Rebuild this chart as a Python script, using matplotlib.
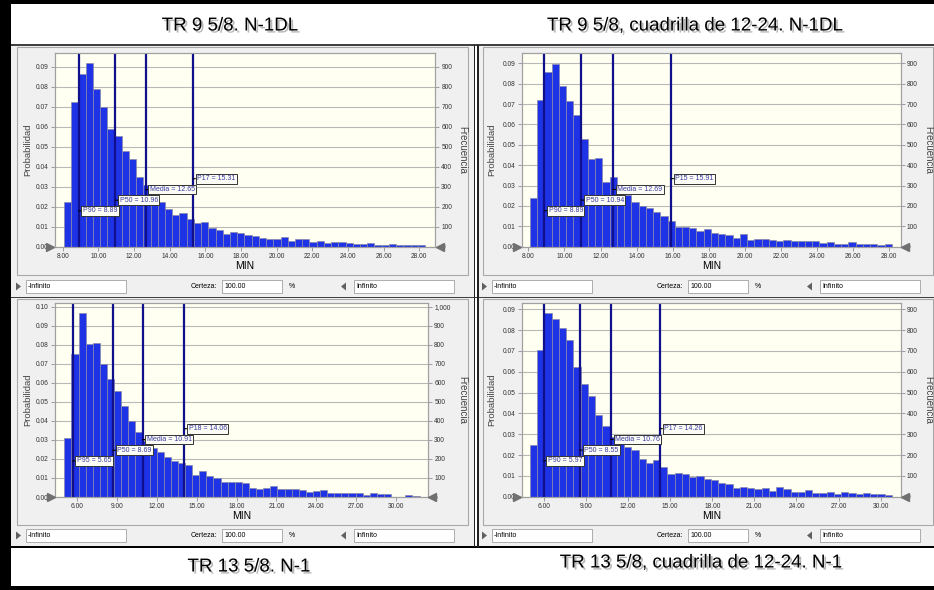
import matplotlib
matplotlib.use('Agg')
import matplotlib.pyplot as plt
import matplotlib.patheffects as pe
from matplotlib.patches import Rectangle, Polygon
from matplotlib.ticker import MultipleLocator, FuncFormatter
import numpy as np

plt.rcParams['font.family'] = ['Liberation Sans', 'DejaVu Sans']

W, H = 934, 590

titles = ["TR 9 5/8. N-1DL", "TR 9 5/8, cuadrilla de 12-24. N-1DL",
          "TR 13 5/8. N-1", "TR 13 5/8, cuadrilla de 12-24. N-1"]

# histogram bins (first edge, bin width) and probabilities
tl_start, tl_width = 8.07, 0.405
tl_prob = [0.0225, 0.0722, 0.0865, 0.0917, 0.0787, 0.0697, 0.0590, 0.0552, 0.0482, 0.0440,
           0.0348, 0.0310, 0.0262, 0.0225, 0.0190, 0.0162, 0.0172, 0.0138, 0.0120, 0.0125,
           0.0095, 0.0087, 0.0067, 0.0075, 0.0070, 0.0058, 0.0055, 0.0047, 0.0042, 0.0038,
           0.0048, 0.0030, 0.0042, 0.0038, 0.0023, 0.0028, 0.0018, 0.0023, 0.0027, 0.0018,
           0.0017, 0.0015, 0.0018, 0.0012, 0.0008, 0.0015, 0.0008, 0.0010, 0.0010, 0.0010]
tl_marks = [("P90", 8.89), ("P50", 10.96), ("Media", 12.65), ("P17", 15.31)]

tr_start, tr_width = 8.09, 0.401
tr_prob = [0.0237, 0.0720, 0.0856, 0.0897, 0.0789, 0.0717, 0.0645, 0.0527, 0.0430, 0.0437,
           0.0319, 0.0344, 0.0254, 0.0254, 0.0220, 0.0200, 0.0188, 0.0172, 0.0152, 0.0126,
           0.0097, 0.0097, 0.0090, 0.0077, 0.0085, 0.0069, 0.0060, 0.0057, 0.0044, 0.0062,
           0.0033, 0.0036, 0.0036, 0.0031, 0.0030, 0.0033, 0.0030, 0.0026, 0.0026, 0.0026,
           0.0020, 0.0021, 0.0015, 0.0015, 0.0023, 0.0015, 0.0015, 0.0015, 0.0008, 0.0011]
tr_marks = [("P90", 8.89), ("P50", 10.94), ("Media", 12.69), ("P15", 15.91)]

bl_start, bl_width = 5.02, 0.535
bl_prob = [0.0312, 0.0750, 0.0966, 0.0802, 0.0811, 0.0698, 0.0623, 0.0556, 0.0478, 0.0397,
           0.0344, 0.0295, 0.0259, 0.0235, 0.0208, 0.0190, 0.0180, 0.0169, 0.0118, 0.0136,
           0.0113, 0.0100, 0.0078, 0.0079, 0.0079, 0.0071, 0.0048, 0.0042, 0.0049, 0.0056,
           0.0041, 0.0041, 0.0044, 0.0035, 0.0028, 0.0034, 0.0037, 0.0021, 0.0023, 0.0019,
           0.0019, 0.0023, 0.0009, 0.0019, 0.0018, 0.0016, 0.0000, 0.0000, 0.0009, 0.0005]
bl_marks = [("P95", 5.65), ("P50", 8.69), ("Media", 10.91), ("P18", 14.06)]

br_start, br_width = 5.00, 0.516
br_prob = [0.0250, 0.0707, 0.0881, 0.0852, 0.0810, 0.0752, 0.0623, 0.0541, 0.0485, 0.0394,
           0.0341, 0.0285, 0.0260, 0.0237, 0.0225, 0.0180, 0.0164, 0.0175, 0.0145, 0.0108,
           0.0113, 0.0108, 0.0095, 0.0098, 0.0084, 0.0079, 0.0068, 0.0060, 0.0040, 0.0048,
           0.0040, 0.0037, 0.0040, 0.0027, 0.0047, 0.0035, 0.0024, 0.0024, 0.0031, 0.0018,
           0.0016, 0.0023, 0.0013, 0.0021, 0.0019, 0.0011, 0.0016, 0.0014, 0.0014, 0.0010]
br_marks = [("P90", 5.97), ("P50", 8.55), ("Media", 10.76), ("P17", 14.26)]


def rect(fig, x0, y0, x1, y1, **kw):
    r = Rectangle((x0 / W, 1 - y1 / H), (x1 - x0) / W, (y1 - y0) / H,
                  transform=fig.transFigure, **kw)
    fig.add_artist(r)


def tri(fig, x, y, direction):
    if direction == 'right':
        pts = [(x, y - 4), (x, y + 4), (x + 5, y)]
    else:
        pts = [(x + 5, y - 4), (x + 5, y + 4), (x, y)]
    fig.add_artist(Polygon([(px / W, 1 - py / H) for px, py in pts], closed=True,
                           transform=fig.transFigure, fc='#606060', ec='none', zorder=1))


def draw_controls(fig, x0, y0):
    tri(fig, x0 - 1, y0 + 6.5, 'right')
    rect(fig, x0 + 9, y0, x0 + 109, y0 + 13, fc='white', ec='#a0a0a0', lw=0.6, zorder=1)
    fig.text((x0 + 11) / W, 1 - (y0 + 6.5) / H, "-Infinito", fontsize=5, va='center')
    fig.text((x0 + 200) / W, 1 - (y0 + 6.5) / H, "Certeza:", fontsize=5, va='center', ha='right')
    rect(fig, x0 + 205, y0, x0 + 265, y0 + 13, fc='white', ec='#a0a0a0', lw=0.6, zorder=1)
    fig.text((x0 + 207) / W, 1 - (y0 + 6.5) / H, "100.00", fontsize=5, va='center')
    fig.text((x0 + 272) / W, 1 - (y0 + 6.5) / H, "%", fontsize=5, va='center')
    tri(fig, x0 + 324, y0 + 6.5, 'left')
    rect(fig, x0 + 337, y0, x0 + 437, y0 + 13, fc='white', ec='#a0a0a0', lw=0.6, zorder=1)
    fig.text((x0 + 339) / W, 1 - (y0 + 6.5) / H, "Infinito", fontsize=5, va='center')


def plot_hist(fig, box, start, width, probs, marks, xlim, ymax, xstep, ylab_dx, flab_dx):
    left, top, right, bottom = box
    ax = fig.add_axes([left / W, 1 - bottom / H, (right - left) / W, (bottom - top) / H])
    ax.set_facecolor('#fffff2')
    edges = start + width * np.arange(len(probs) + 1)
    ax.bar(edges[:-1], probs, width=width, align='edge', color='#1e32e6',
           edgecolor='#8a8aa8', linewidth=0.5, zorder=2)
    ax.set_xlim(*xlim)
    ax.set_ylim(0, ymax)
    ax.yaxis.set_major_locator(MultipleLocator(0.01))
    ax.yaxis.set_major_formatter(FuncFormatter(lambda v, p: f"{v:.2f}"))
    ax.xaxis.set_major_locator(MultipleLocator(xstep))
    ax.xaxis.set_major_formatter(FuncFormatter(lambda v, p: f"{v:.2f}"))
    ax.grid(axis='y', color='#b8b8b8', lw=0.8, zorder=0)
    ax.set_axisbelow(True)
    ax.tick_params(labelsize=4.8, length=3, width=0.6, color='#909090', pad=1.5,
                   labelcolor='#333333')
    for s in ax.spines.values():
        s.set_color('#a0a0a0')
        s.set_linewidth(0.8)

    tw = ax.twinx()
    tw.set_ylim(0, ymax * 10000)
    tw.yaxis.set_major_locator(MultipleLocator(100))
    tw.yaxis.set_major_formatter(FuncFormatter(lambda v, p: f"{v:,.0f}"))
    tw.tick_params(labelsize=4.8, length=3, width=0.6, color='#909090', pad=1.5,
                   labelcolor='#333333')
    for s in tw.spines.values():
        s.set_color('#a0a0a0')
        s.set_linewidth(0.8)

    ypos = [0.186, 0.241, 0.296, 0.352]
    for (name, val), yf in zip(marks, ypos):
        ax.axvline(val, color='#10108c', lw=1.6, zorder=3)
        ax.annotate(f"{name} = {val:.2f}", xy=(val, yf), xycoords=ax.get_xaxis_transform(),
                    xytext=(3, 0), textcoords='offset points', ha='left', va='center',
                    fontsize=5, color='#3a3aa0', zorder=5,
                    bbox=dict(boxstyle='square,pad=0.2', fc='#fcfcf6', ec='#333333', lw=0.7),
                    arrowprops=dict(arrowstyle='-', color='black', lw=0.8,
                                    shrinkA=0, shrinkB=0))

    tw.plot([-0.012], [0], marker='>', ms=6, color='#707070', transform=tw.transAxes,
            clip_on=False, zorder=10)
    tw.plot([1.012], [0], marker='<', ms=6, color='#707070', transform=tw.transAxes,
            clip_on=False, zorder=10)

    wpx = right - left
    ax.text(-ylab_dx / wpx, 0.5, "Probabilidad", rotation=90, ha='center', va='center',
            fontsize=6.8, color='#444444', transform=ax.transAxes)
    ax.text(1 + flab_dx / wpx, 0.5, "Frecuencia", rotation=270, ha='center', va='center',
            fontsize=7, color='#444444', transform=ax.transAxes)
    ax.text(0.5, -19 / (bottom - top), "MIN", ha='center', va='center', fontsize=7.5,
            transform=ax.transAxes)
    return ax


fig = plt.figure(figsize=(W / 100, H / 100), dpi=100)
fig.patch.set_facecolor('white')

# window backgrounds and panel frames
for x0, y0, x1, y1 in [(11, 45, 474, 297), (478, 45, 934, 297), (11, 297, 474, 547), (478, 297, 934, 547)]:
    rect(fig, x0, y0, x1, y1, fc='#f0f0f0', ec='none', zorder=-3)
for x0, y0, x1, y1 in [(17, 47, 468, 275), (483, 47, 933, 275), (17, 299, 468, 525), (483, 299, 933, 525)]:
    rect(fig, x0, y0, x1, y1, fc='#f0f0f0', ec='#a8a8a8', lw=0.8, zorder=-2)

# black frame and separators
rect(fig, 0, 0, 11, 590, fc='black', ec='none', zorder=20)
rect(fig, 0, 0, 934, 4, fc='black', ec='none', zorder=20)
rect(fig, 0, 586, 934, 590, fc='black', ec='none', zorder=20)
rect(fig, 11, 44, 934, 45.5, fc='#404040', ec='none', zorder=20)
rect(fig, 11, 296.5, 934, 298, fc='#404040', ec='none', zorder=20)
rect(fig, 11, 546, 934, 548, fc='black', ec='none', zorder=20)
rect(fig, 473.5, 45, 474.8, 547, fc='#202020', ec='none', zorder=20)
rect(fig, 477.2, 45, 478.5, 547, fc='#202020', ec='none', zorder=20)

plot_hist(fig, (55, 53, 435, 247), tl_start, tl_width, tl_prob, tl_marks,
          (7.57, 28.88), 0.0969, 2.0, 27, 27)
plot_hist(fig, (521.7, 53.3, 900.7, 246.7), tr_start, tr_width, tr_prob, tr_marks,
          (7.63, 28.63), 0.0949, 2.0, 30, 27.5)
plot_hist(fig, (55, 303, 428, 497), bl_start, bl_width, bl_prob, bl_marks,
          (4.32, 32.41), 0.102, 3.0, 27, 34)
plot_hist(fig, (521.7, 303.3, 900.7, 496.7), br_start, br_width, br_prob, br_marks,
          (4.41, 31.43), 0.0929, 3.0, 30, 28)

draw_controls(fig, 17, 280)
draw_controls(fig, 483, 280)
draw_controls(fig, 17, 529)
draw_controls(fig, 483, 529)

shadow = [pe.withSimplePatchShadow(offset=(1.5, -1.5), shadow_rgbFace=(0.45, 0.45, 0.45), alpha=0.5)]
title_pos = [(230, 26), (695, 26), (249, 567), (701, 563)]
for t, (x, y) in zip(titles, title_pos):
    fig.text(x / W, 1 - y / H, t, ha='center', va='center', fontsize=13.5,
             path_effects=shadow)

fig.savefig('out.png', dpi=100)
